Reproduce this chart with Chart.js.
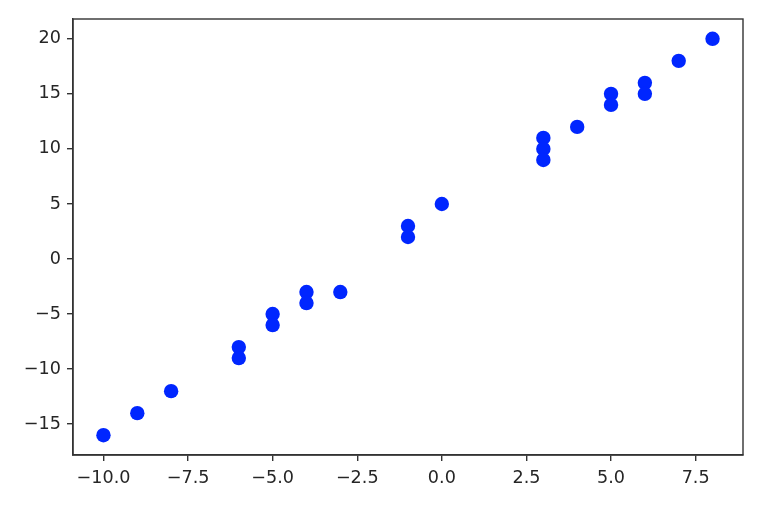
<!DOCTYPE html>
<html>
<head>
<meta charset="utf-8">
<script src="https://cdn.jsdelivr.net/npm/chart.js@4/dist/chart.umd.min.js"></script>
<style>
  html, body { margin: 0; padding: 0; background: #ffffff; }
  canvas { display: block; }
</style>
</head>
<body>
<canvas id="c" width="762" height="508"></canvas>
<script>
// ---- data ----
const xValues = [-10, -9, -8, -6, -6, -5, -5, -4, -4, -3, -1, -1, 0, 3, 3, 3, 4, 5, 5, 6, 6, 7, 8];
const yValues = [-16, -14, -12, -8, -9, -5, -6, -3, -4, -3, 3, 2, 5, 11, 10, 9, 12, 15, 14, 16, 15, 18, 20];
const xTickValues = [-10, -7.5, -5, -2.5, 0, 2.5, 5, 7.5];
const xTickLabels = ['\u221210.0', '\u22127.5', '\u22125.0', '\u22122.5', '0.0', '2.5', '5.0', '7.5'];
const yTickValues = [-15, -10, -5, 0, 5, 10, 15, 20];
const yTickLabels = ['\u221215', '\u221210', '\u22125', '0', '5', '10', '15', '20'];
const xRange = [-10.9, 8.9];
const yRange = [-17.8, 21.8];

const points = xValues.map((x, i) => ({ x: x, y: yValues[i] }));

const axisColor = '#333333';
const textColor = '#262626';
const font = { family: 'DejaVu Sans', size: 17.6 };

const frame = {
  id: 'frame',
  afterDraw(chart) {
    const a = chart.chartArea, ctx = chart.ctx;
    ctx.save();
    ctx.strokeStyle = axisColor;
    ctx.lineWidth = 1.4;
    ctx.strokeRect(a.left, a.top, a.right - a.left, a.bottom - a.top);
    ctx.restore();
  }
};

new Chart(document.getElementById('c'), {
  type: 'scatter',
  data: {
    datasets: [{
      data: points,
      backgroundColor: '#0026ff',
      borderWidth: 0,
      pointRadius: 7.2,
      pointHoverRadius: 7.2
    }]
  },
  options: {
    responsive: false,
    animation: false,
    layout: { padding: { top: 19, right: 19, left: 0, bottom: 0 } },
    plugins: { legend: { display: false }, tooltip: { enabled: false } },
    scales: {
      x: {
        type: 'linear',
        min: xRange[0], max: xRange[1],
        afterBuildTicks: s => { s.ticks = xTickValues.map(v => ({ value: v })); },
        afterFit: s => { s.height = 53; },
        grid: { display: true, drawOnChartArea: false, drawTicks: true, tickLength: 6, color: axisColor, lineWidth: 1.4 },
        border: { display: true, color: axisColor, width: 1.4 },
        ticks: {
          autoSkip: false, maxRotation: 0, padding: 7, color: textColor, font: font,
          callback: (v) => { const i = xTickValues.indexOf(v); return i >= 0 ? xTickLabels[i] : ''; }
        }
      },
      y: {
        type: 'linear',
        min: yRange[0], max: yRange[1],
        afterBuildTicks: s => { s.ticks = yTickValues.map(v => ({ value: v })); },
        afterFit: s => { s.width = 73; },
        grid: { display: true, drawOnChartArea: false, drawTicks: true, tickLength: 6, color: axisColor, lineWidth: 1.4 },
        border: { display: true, color: axisColor, width: 1.4 },
        ticks: {
          autoSkip: false, padding: 6, color: textColor, font: font,
          callback: (v) => { const i = yTickValues.indexOf(v); return i >= 0 ? yTickLabels[i] : ''; }
        }
      }
    }
  },
  plugins: [frame]
});
</script>
</body>
</html>
